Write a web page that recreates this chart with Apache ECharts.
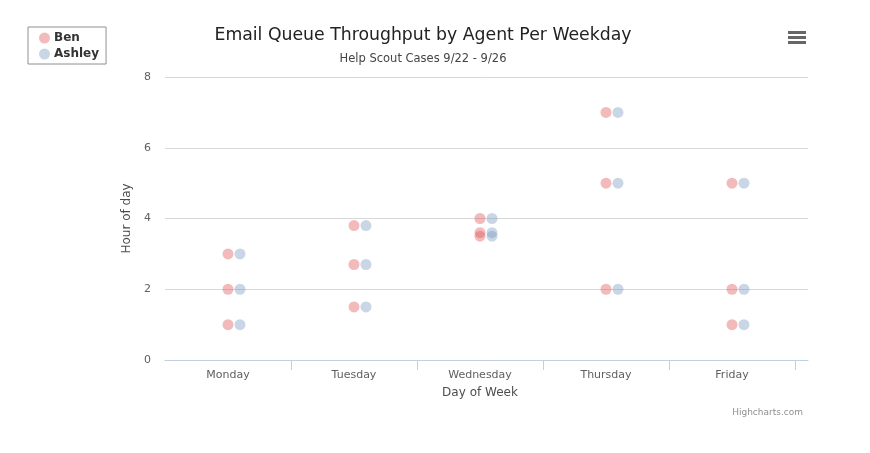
<!DOCTYPE html>
<html><head><meta charset="utf-8">
<script src="https://cdn.jsdelivr.net/npm/echarts@6/dist/echarts.min.js"></script>
<style>html,body{margin:0;padding:0;background:#fff}#c{width:870px;height:453px}</style>
</head><body><div id="c"></div>
<script>
const categories = ['Monday', 'Tuesday', 'Wednesday', 'Thursday', 'Friday'];
const yTicks = [0, 2, 4, 6, 8];
// [category index, hour]
const benData = [[0,3],[0,2],[0,1],[1,3.8],[1,2.7],[1,1.5],[2,4],[2,3.6],[2,3.5],[3,7],[3,5],[3,2],[4,5],[4,2],[4,1]];
const ashleyData = [[0,3],[0,2],[0,1],[1,3.8],[1,2.7],[1,1.5],[2,4],[2,3.6],[2,3.5],[3,7],[3,5],[3,2],[4,5],[4,2],[4,1]];

const FONT = '"DejaVu Sans", Verdana, sans-serif';
const ashleyOffset = 0.095;
const chart = echarts.init(document.getElementById('c'));
chart.setOption({
  animation: false,
  textStyle: {fontFamily: FONT},
  title: [
    {text: 'Email Queue Throughput by Agent Per Weekday', left: 418, top: 22, textAlign: 'center',
     textStyle: {fontFamily: FONT, fontSize: 17.3, fontWeight: 'normal', color: '#222222'}},
    {text: 'Help Scout Cases 9/22 - 9/26', left: 418, top: 48, textAlign: 'center',
     textStyle: {fontFamily: FONT, fontSize: 11.5, fontWeight: 'normal', color: '#444444'}},
    {text: 'Highcharts.com', right: 62, top: 403,
     textStyle: {fontFamily: FONT, fontSize: 9, fontWeight: 'normal', color: '#909090'}}
  ],
  legend: {
    orient: 'vertical', left: 28, top: 27, padding: [5, 7, 4, 11],
    borderColor: '#909090', borderWidth: 1, borderRadius: 0,
    itemWidth: 11, itemHeight: 11, itemGap: 4, icon: 'circle',
    textStyle: {fontFamily: FONT, fontSize: 12, fontWeight: 'bold', color: '#333333', padding: [0, 0, 0, -1]},
    data: ['Ben', 'Ashley']
  },
  grid: [
    {left: 165, right: 62, top: 77, bottom: 93, containLabel: false},
    {left: 165, right: 75, top: 77, bottom: 93, containLabel: false}
  ],
  xAxis: [
    {gridIndex: 0, type: 'value', min: 0, max: 1, show: true,
     axisLine: {show: true, lineStyle: {color: '#C0D0E0'}}, axisTick: {show: false},
     axisLabel: {show: false}, splitLine: {show: false}},
    {gridIndex: 1, type: 'value', min: -0.5, max: 4.5,
     axisLine: {show: false}, splitLine: {show: false},
     axisTick: {show: true, length: 10, lineStyle: {color: '#C0D0E0'},
                customValues: categories.map((c, i) => i + 0.5)},
     axisLabel: {color: '#606060', fontSize: 11, margin: 10, fontFamily: FONT,
                 customValues: categories.map((c, i) => i),
                 formatter: v => categories[Math.round(v)] || ''},
     name: 'Day of Week', nameLocation: 'middle', nameGap: 27,
     nameTextStyle: {color: '#4d4d4d', fontSize: 12, fontFamily: FONT}}
  ],
  yAxis: [
    {gridIndex: 0, type: 'value', min: 0, max: 8, interval: 2,
     axisLine: {show: false}, axisTick: {show: false},
     axisLabel: {color: '#606060', fontSize: 11, margin: 14, fontFamily: FONT},
     splitLine: {lineStyle: {color: '#D8D8D8'}},
     name: 'Hour of day', nameLocation: 'middle', nameGap: 30, nameRotate: 90,
     nameTextStyle: {color: '#4d4d4d', fontSize: 12, fontFamily: FONT}},
    {gridIndex: 1, type: 'value', min: 0, max: 8, show: false}
  ],
  series: [
    {name: 'Ben', type: 'scatter', xAxisIndex: 1, yAxisIndex: 1, symbolSize: 11,
     itemStyle: {color: 'rgba(223,83,83,0.5)'},
     data: benData.map(d => [d[0], d[1]])},
    {name: 'Ashley', type: 'scatter', xAxisIndex: 1, yAxisIndex: 1, symbolSize: 11,
     itemStyle: {color: 'rgba(119,152,191,0.5)'},
     data: ashleyData.map(d => [d[0] + ashleyOffset, d[1]])}
  ],
  graphic: [
    {type: 'group', left: 788, top: 31, children: [
      {type: 'rect', shape: {x: 0, y: 0, width: 18, height: 3}, style: {fill: '#666666'}},
      {type: 'rect', shape: {x: 0, y: 5, width: 18, height: 3}, style: {fill: '#666666'}},
      {type: 'rect', shape: {x: 0, y: 10, width: 18, height: 3}, style: {fill: '#666666'}}
    ]}
  ]
});
</script></body></html>
